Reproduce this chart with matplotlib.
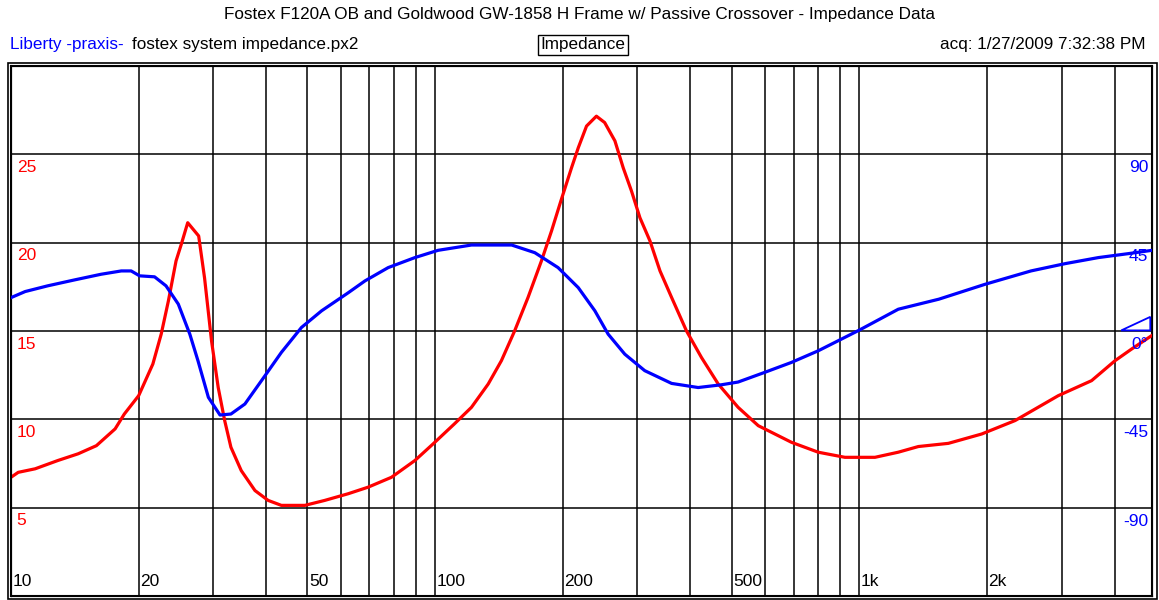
import matplotlib
matplotlib.use("Agg")
import matplotlib.pyplot as plt
from matplotlib.patches import Polygon, Rectangle
from matplotlib.ticker import NullLocator

plt.rcParams['font.family'] = ['Liberation Sans', 'DejaVu Sans']

# impedance magnitude (ohms)
imp_freq = [10, 10.4, 11.4, 12.9, 14.4, 15.9, 17.6, 18.5, 20, 21.6, 22.6, 23.5, 24.5,
            25.2, 26.1, 27.7, 28.6, 29.7, 30.8, 31.9, 33.0, 34.9, 37.6, 40.4, 43.4,
            49.3, 54.9, 62.4, 69.5, 78.9, 89.6, 98.9, 111, 121.8, 133.4, 143.3, 154,
            165.6, 178.1, 188.1, 197.9, 209.7, 217.5, 227.5, 240, 251, 265.4, 277.6,
            290.4, 304, 321, 339, 361, 391.5, 424.6, 465, 518, 578, 692, 800, 925,
            1089, 1236, 1378, 1622, 1944, 2330, 2946, 3530, 4009, 4387, 4900]
imp_ohm = [6.72, 7.0, 7.2, 7.67, 8.05, 8.51, 9.46, 10.3, 11.34, 13.13, 14.82, 16.7, 18.97,
           19.9, 21.13, 20.38, 18.0, 14.45, 11.8, 9.93, 8.42, 7.1, 5.97, 5.41, 5.13,
           5.13, 5.41, 5.79, 6.16, 6.72, 7.67, 8.61, 9.74, 10.68, 12.0, 13.32, 15.01,
           16.9, 18.97, 20.66, 22.36, 24.24, 25.37, 26.6, 27.16, 26.8, 25.76, 24.24,
           22.92, 21.41, 20.1, 18.4, 16.9, 15.0, 13.5, 12.0, 10.68, 9.64, 8.7, 8.14, 7.85,
           7.85, 8.14, 8.46, 8.64, 9.17, 9.93, 11.34, 12.19, 13.32, 13.98, 14.75]

# impedance phase (degrees)
ph_freq = [10, 10.8, 12.2, 14.1, 16.3, 18.2, 19.2, 20.1, 21.8, 23.2, 24.8, 26.4, 27.6,
           29.2, 31.1, 33.0, 35.6, 39.7, 43.4, 48.4, 54.0, 62.4, 68.3, 77.5, 89.6,
           101.6, 121.8, 151.5, 171.8, 194.9, 217.5, 238, 255.8, 280, 312, 361, 417,
           473, 518, 598, 692, 800, 1000, 1236, 1540, 1980, 2540, 3055, 3662, 4305, 4900]
ph_deg = [17.0, 20.1, 23.0, 26.0, 28.9, 30.6, 30.6, 28.1, 27.6, 23.0, 13.7, -1.6, -15.2,
          -33.8, -42.8, -42.3, -37.2, -22.8, -10.9, 1.8, 10.3, 19.5, 25.5, 32.3, 37.4,
          41.1, 43.8, 43.8, 39.9, 32.3, 22.1, 10.3, -1.6, -11.8, -20.2, -26.7, -28.8,
          -27.4, -26.0, -21.1, -16.0, -10.1, 0.45, 11.1, 16.2, 23.8, 30.6, 34.3, 37.4,
          39.4, 41.1]

grid_freqs = [20, 30, 40, 50, 60, 70, 80, 90, 100, 200, 300, 400, 500, 600, 700, 800,
              900, 1000, 2000, 3000, 4000]
freq_labels = {10: "10", 20: "20", 50: "50", 100: "100", 200: "200", 500: "500",
               1000: "1k", 2000: "2k"}
ohm_ticks = [5, 10, 15, 20, 25]
deg_ticks = [90, 45, 0, -45, -90]
deg_labels = ["90", "45", "0\u00b0", "-45", "-90"]

fig = plt.figure(figsize=(11.59, 6.0), dpi=100)
ax = fig.add_axes([11 / 1159, 4 / 600, 1141 / 1159, 530 / 600])
ax.set_xscale("log")
ax.set_xlim(10, 4900)
ax.set_ylim(0, 30)
ax.xaxis.set_minor_locator(NullLocator())
ax.set_xticks(grid_freqs)
ax.set_yticks(ohm_ticks)
ax.tick_params(length=0, labelbottom=False, labelleft=False)
ax.grid(True, color="black", lw=1.1)
for s in ax.spines.values():
    s.set_linewidth(1.5)

ax2 = ax.twinx()
ax2.set_ylim(-135, 135)
ax2.set_yticks([])

ax.plot(imp_freq, imp_ohm, color="#ff0000", lw=2.3, zorder=3)
ax2.plot(ph_freq, ph_deg, color="#0000ff", lw=2.3, zorder=3)

fs = 12.5
xt = ax.get_xaxis_transform()
for f, lab in freq_labels.items():
    ax.text(f * 1.008, 0.027, lab, transform=xt, fontsize=fs, va="center", ha="left")

yt = ax.get_yaxis_transform()
for v in ohm_ticks:
    ax.text(0.005, v - 0.75, str(v), transform=yt, fontsize=fs, color="#ff0000",
            va="center", ha="left")

yt2 = ax2.get_yaxis_transform()
for v, lab in zip(deg_ticks, deg_labels):
    ax2.text(0.9965, v - 6.8, lab, transform=yt2, fontsize=fs, color="#0000ff",
             va="center", ha="right", zorder=4)

# little 0 degree reference wedge on the right edge
ax2.add_patch(Polygon([(0.973, 0.3), (0.9985, 0.3), (0.9985, 7.2)], closed=True,
                      fill=False, edgecolor="#0000ff", lw=1.3, transform=yt2,
                      clip_on=False, zorder=5))

# outer frame
fig.add_artist(Rectangle((7.5 / 1159, 1 / 600), 1149 / 1159, 536 / 600, fill=False,
                         edgecolor="black", lw=1.2, transform=fig.transFigure))

hs = 12.3
fig.text(0.5, 1 - 15 / 600,
         "Fostex F120A OB and Goldwood GW-1858 H Frame w/ Passive Crossover - Impedance Data",
         ha="center", va="center", fontsize=hs)
fig.text(10 / 1159, 1 - 45 / 600, "Liberty -praxis-", color="#0000ff", ha="left",
         va="center", fontsize=hs)
fig.text(132 / 1159, 1 - 45 / 600, "fostex system impedance.px2", ha="left",
         va="center", fontsize=hs)
fig.text(583 / 1159, 1 - 45 / 600, "Impedance", ha="center", va="center", fontsize=hs,
         bbox=dict(boxstyle="square,pad=0.15", fc="white", ec="black", lw=1))
fig.text(1145 / 1159, 1 - 45 / 600, "acq: 1/27/2009 7:32:38 PM", ha="right",
         va="center", fontsize=hs)

fig.savefig("out.png", dpi=100)
